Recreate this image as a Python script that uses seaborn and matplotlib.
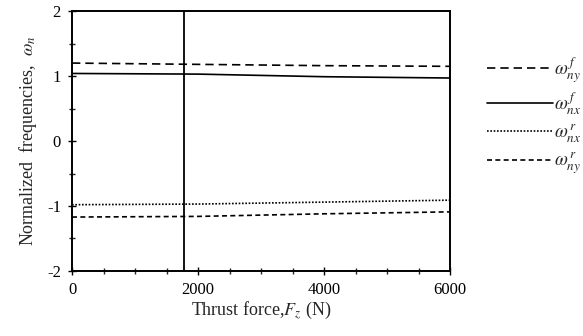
import matplotlib
matplotlib.use("Agg")
import matplotlib.pyplot as plt
import seaborn as sns
import pandas as pd

# Thrust force samples (N) and normalized natural frequencies
thrust = [0, 2000, 4000, 6000]
w_ny_f = [1.20, 1.18, 1.16, 1.15]
w_nx_f = [1.04, 1.03, 0.99, 0.97]
w_nx_r = [-0.98, -0.97, -0.94, -0.91]
w_ny_r = [-1.17, -1.16, -1.12, -1.09]
marker_force = 1770

series_labels = [r"$\omega^{\,f}_{ny}$", r"$\omega^{\,f}_{nx}$",
                 r"$\omega^{\,r}_{nx}$", r"$\omega^{\,r}_{ny}$"]
series_values = [w_ny_f, w_nx_f, w_nx_r, w_ny_r]

sns.set_theme(style="ticks")
plt.rcParams["font.family"] = ["Liberation Serif", "DejaVu Serif"]
plt.rcParams["mathtext.fontset"] = "stix"
plt.rcParams["axes.unicode_minus"] = False

df = pd.DataFrame({
    "F": thrust * len(series_values),
    "w": [v for vals in series_values for v in vals],
    "series": [lab for lab, vals in zip(series_labels, series_values) for _ in vals],
})

fig = plt.figure(figsize=(5.83, 3.36), dpi=100)
ax = fig.add_axes([0.1235, 0.1935, 0.6485, 0.7735])

dashes = {series_labels[0]: (5, 3), series_labels[1]: "",
          series_labels[2]: (1, 1), series_labels[3]: (3, 2)}
sns.lineplot(data=df, x="F", y="w", hue="series", style="series",
             hue_order=series_labels, style_order=series_labels,
             palette=["black"] * 4, dashes=dashes, linewidth=1.2,
             ax=ax, legend=True)

ax.axvline(marker_force, color="black", linewidth=1.3)

ax.set_xlim(0, 6000)
ax.set_ylim(-2, 2)
ax.set_xticks([0, 2000, 4000, 6000])
ax.set_xticks(range(0, 6001, 500), minor=True)
ax.set_yticks([-2, -1, 0, 1, 2])
ax.set_yticks([-1.5, -0.5, 0.5, 1.5], minor=True)
ax.tick_params(which="major", direction="inout", length=6, width=1.0,
               labelsize=12, colors="black", pad=5)
ax.tick_params(which="minor", direction="inout", length=4, width=1.0)
for s in ax.spines.values():
    s.set_linewidth(1.4)
    s.set_color("black")

ax.set_xlabel(r"Thrust force,$F_z$ (N)", fontsize=13, labelpad=1)
ax.set_ylabel(r"Normalized  frequencies,  $\omega_n$", fontsize=13, labelpad=6)

leg = ax.legend(loc="upper left", bbox_to_anchor=(487 / 583, 1 - 55 / 336),
                bbox_transform=fig.transFigure, frameon=False,
                borderpad=0, borderaxespad=0,
                handlelength=3.5, handletextpad=0.1, labelspacing=0.3,
                fontsize=13.5)

fig.savefig("out.png", dpi=100)
